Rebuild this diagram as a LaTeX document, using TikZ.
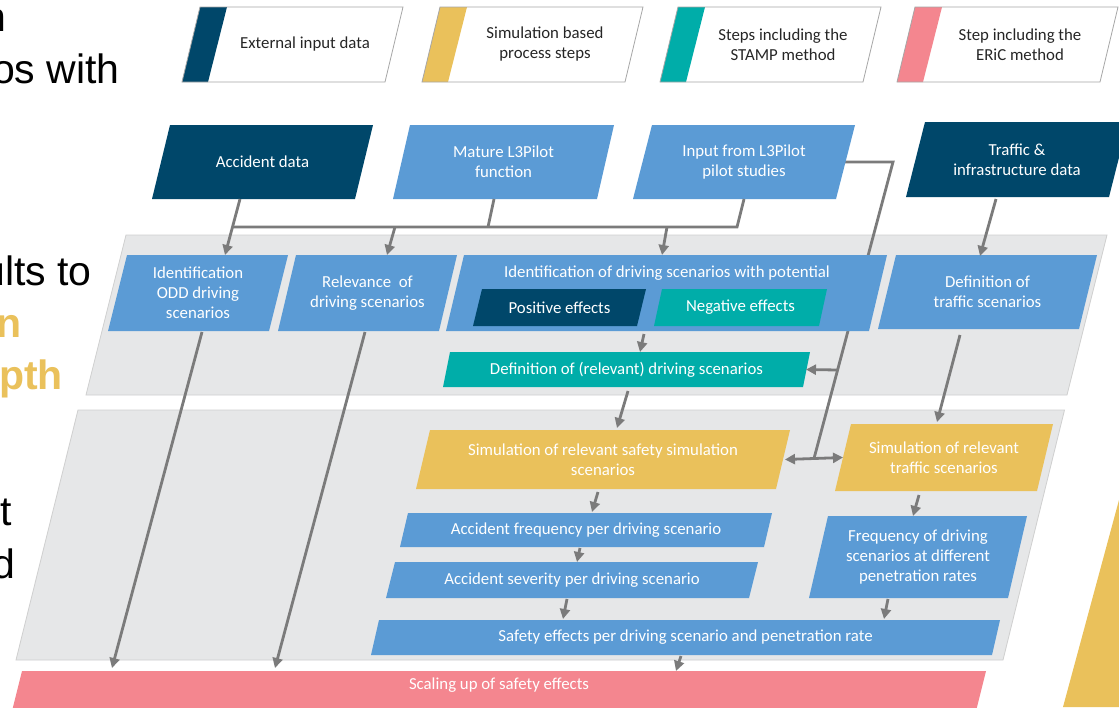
\documentclass[tikz,border=0pt]{standalone}
\usepackage{fontspec}
\newfontfamily\calfont{Carlito}
\newfontfamily\arialfont{Liberation Sans}
\usetikzlibrary{arrows.meta,calc,backgrounds}
\definecolor{cNavy}{HTML}{00476A}
\definecolor{cBlue}{HTML}{5B9BD5}
\definecolor{cTeal}{HTML}{00ADA9}
\definecolor{cYel}{HTML}{EAC15B}
\definecolor{cPink}{HTML}{F4868F}
\definecolor{cGray}{HTML}{7B7B7B}
\definecolor{cBand}{HTML}{E6E7E8}
\definecolor{cBandLine}{HTML}{CFCFCF}
\definecolor{cLegLine}{HTML}{A6A6A6}
\definecolor{cTxt}{HTML}{262626}
\tikzset{
  box/.style={inner sep=0pt, outer sep=0pt, text=white, align=center,
    font=\calfont\fontsize{16.8pt}{20pt}\selectfont},
  pg/.style args={#1/#2}{path picture={\fill[#1] (path picture bounding box.south west)
      -- ([xshift=-#2pt]path picture bounding box.south east)
      -- (path picture bounding box.north east)
      -- ([xshift=#2pt]path picture bounding box.north west) -- cycle;}},
  conn/.style={draw=cGray, line width=2.8pt},
  arr/.style={-{Triangle[length=10pt,width=10pt]}},
  darr/.style={{Triangle[length=10pt,width=10pt]}-{Triangle[length=10pt,width=10pt]}},
  legline/.style={draw=cLegLine, line width=0.8pt},
  legtext/.style={inner sep=0pt, text=cTxt, align=center,
    font=\calfont\fontsize{16.8pt}{20pt}\selectfont},
  lt/.style={inner sep=0pt, anchor=base east, text=black,
    font=\arialfont\fontsize{41pt}{49pt}\selectfont},
  ltb/.style={lt, text=cYel, font=\arialfont\bfseries\fontsize{41pt}{49pt}\selectfont},
}
\newcommand\lgbox[4]{%
  \fill[white] (#2,82) -- (#2+203,82) -- (#2+221,7) -- (#2+18,7) -- cycle;
  \fill[#3] (#2,82) -- (#2+26,82) -- (#2+45,7) -- (#2+18,7) -- cycle;
  \draw[legline] (#2,82) -- (#2+203,82) -- (#2+221,7) -- (#2+18,7) -- cycle;
  \node[legtext] (#1) at (#2+123,44.5) {#4};
}
\begin{document}
\begin{tikzpicture}[x=1pt,y=-1pt]
\useasboundingbox (0,0) rectangle (1119,707);
\clip (0,0) rectangle (1119,707);

% left text fragments
\node[lt] (lt1) at (7,31) {n};
\node[lt] (lt2) at (120,83) {os with};
\node[lt] (lt3) at (92,285) {ults to};
\node[ltb] (lt4) at (22,337) {n};
\node[ltb] (lt5) at (63,389) {pth};
\node[lt] (lt6) at (12,525) {t};
\node[lt] (lt7) at (16,578) {d};

% big yellow shape bottom right
\fill[cYel] (1119,500) -- (1063,707) -- (1119,707) -- cycle;

% legend
\lgbox{lg1}{182}{cNavy}{External input data}
\lgbox{lg2}{422}{cYel}{Simulation based\\process steps}
\lgbox{lg3}{660}{cTeal}{Steps including the\\STAMP method}
\lgbox{lg4}{897}{cPink}{Step including the\\ERiC method}

% boxes
\node[box,pg={cNavy/18},minimum width=221pt,minimum height=74pt] (acc) at (262.5,162) {Accident data};
\node[box,pg={cBlue/17},minimum width=221pt,minimum height=74pt] (mat) at (503.5,162) {Mature L3Pilot\\function};
\node[box,pg={cBlue/19},minimum width=222pt,minimum height=74pt] (inp) at (744,162) {Input from L3Pilot\\pilot studies};
\node[box,pg={cNavy/19},minimum width=222pt,minimum height=75pt] (trf) at (1017,159.5) {Traffic \&\\infrastructure data};

\node[box,pg={cBlue/19},minimum width=180pt,minimum height=76pt] (odd) at (198,293) {Identification\\ODD driving\\scenarios};
\node[box,pg={cBlue/18},minimum width=179pt,minimum height=76pt] (rel) at (367.5,293) {Relevance~~of\\driving scenarios};
\node[box,pg={cBlue/18},minimum width=441pt,minimum height=76pt] (idp) at (666.5,293) {};
\node[box] (idpt) at (667,273) {Identification of driving scenarios with potential};
\node[box,pg={cNavy/9},minimum width=173pt,minimum height=37pt] (pos) at (559.5,307.5) {Positive effects};
\node[box,pg={cTeal/8},minimum width=173pt,minimum height=37pt] (neg) at (740.5,307.5) {Negative effects};
\node[box,pg={cBlue/18},minimum width=219pt,minimum height=74pt] (dtr) at (987.5,292) {Definition of\\traffic scenarios};
\node[box,pg={cTeal/7},minimum width=367pt,minimum height=35pt] (drel) at (626.5,369.5) {Definition of (relevant) driving scenarios};

\node[box,pg={cYel/14},minimum width=374pt,minimum height=59pt] (ssim) at (603,459.5) {Simulation of relevant safety simulation\\scenarios};
\node[box,pg={cYel/16},minimum width=218pt,minimum height=67pt] (tsim) at (944,457.5) {Simulation of relevant\\traffic scenarios};
\node[box,pg={cBlue/8},minimum width=372pt,minimum height=34pt] (afr) at (586,530) {Accident frequency per driving scenario};
\node[box,pg={cBlue/9},minimum width=372pt,minimum height=36pt] (asv) at (572,580) {Accident severity per driving scenario};
\node[box,pg={cBlue/19},minimum width=218pt,minimum height=82pt] (frq) at (918,557) {Frequency of driving\\scenarios at different\\penetration rates};
\node[box,pg={cBlue/8},minimum width=629pt,minimum height=35pt] (saf) at (685.5,637.5) {Safety effects per driving scenario and penetration rate};
\node[box,pg={cPink/10},minimum width=974pt,minimum height=40pt,text height=12pt,text depth=16pt] (scl) at (499,691) {Scaling up of safety effects};

% helper coordinates
\coordinate (dA) at ($(ssim.east)+(-5,0)$);
\coordinate (dB) at ($(tsim.west)+(8,0)$);
\coordinate (k2) at ($(dA)!0.5!(dB)$);

% background: page, bands, long line behind boxes
\begin{scope}[on background layer]
  \fill[white] (0,0) rectangle (1119,707);
  \filldraw[fill=cBand, draw=cBandLine, line width=0.8pt] (126,235) -- (1107,235) -- (1067,395) -- (86,395) -- cycle;
  \filldraw[fill=cBand, draw=cBandLine, line width=0.8pt] (78,410) -- (1064.5,410) -- (1003,660) -- (16,660) -- cycle;
  \draw[conn] ($(inp.east)+(-10,0)$) -- ($(inp.east)+(38,0)$) coordinate (k1) -- (k2);
\end{scope}
\coordinate (j1) at ($(k1)!0.7015!(k2)$);

% connectors
\draw[conn,arr] ([xshift=-22.5pt]acc.south) -- ([xshift=27pt]odd.north);
\coordinate (bus1) at ($([xshift=-22.5pt]acc.south)!0.5!([xshift=27pt]odd.north)$);
\draw[conn] (bus1) -- ($(inp.south)+(-7,28)$) -- (inp.south);
\draw[conn] ($(mat.south)+(-9.5,0)$) -- ($(mat.south)+(-15.5,28)$);
\draw[conn,arr] ($(rel.north)+(27.5,-28)$) -- ($(rel.north)+(19.5,0)$);
\draw[conn,arr] ($(idp.north)+(0.5,-28)$) -- ($(idp.north)+(-4.5,0)$);
\draw[conn,arr] (j1) -- ($(drel.east)+(-4,0)$);
\draw[conn,darr] (dA) -- (dB);
\draw[conn,arr] ($(trf.south)+(-21,2)$) -- ($(dtr.north)+(-7.5,1)$);
\draw[conn,arr] ($(idp.south)+(-22.5,3)$) -- ($(drel.north)+(13.5,0)$);
\draw[conn,arr] ($(drel.south)+(1.5,4)$) -- ($(ssim.north)+(14,-2)$);
\draw[conn,arr] ($(dtr.south)+(-27.5,6)$) -- ($(tsim.north)+(-7,-2)$);
\draw[conn,arr] ($(ssim.south)+(-5,3)$) -- ($(afr.north)+(6,-1)$);
\draw[conn,arr] ($(afr.south)+(-6,1)$) -- ($(asv.north)+(5,0)$);
\draw[conn,arr] ($(asv.south)+(-5,1)$) -- ($(saf.north)+(-122.5,-1)$);
\draw[conn,arr] ($(tsim.south)+(-25,4)$) -- ($(frq.north)+(-5,0)$);
\draw[conn,arr] ($(frq.south)+(-30,1)$) -- ($(saf.north)+(198.5,-1)$);
\draw[conn,arr] ($(saf.south)+(-4.5,1)$) -- ($(scl.north)+(177,0)$);
\draw[conn,arr] ($(odd.south)+(4,1)$) -- ($(scl.north)+(-387,-3)$);
\draw[conn,arr] ($(rel.south)+(-2.5,1)$) -- ($(scl.north)+(-224,-3)$);
\end{tikzpicture}
\end{document}
